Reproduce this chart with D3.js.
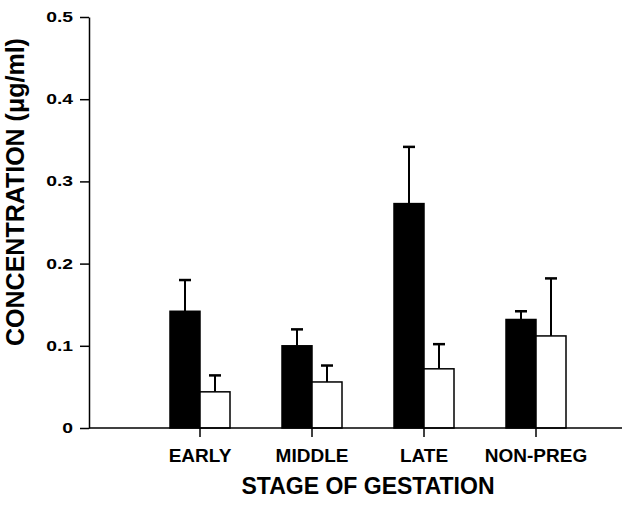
<!DOCTYPE html>
<html>
<head>
<meta charset="utf-8">
<script src="https://cdn.jsdelivr.net/npm/d3@7"></script>
<style>
	body { margin: 0; background: #fff; }
	text { font-family: "Liberation Sans", Arial, sans-serif; font-weight: bold; fill: #000; }
</style>
</head>
<body>
<div id="chart-area"></div>
<script>
// DATA
var stages = ["EARLY", "MIDDLE", "LATE", "NON-PREG"];
var blackMeans = [0.142, 0.100, 0.273, 0.132];
var blackErrs = [0.038, 0.020, 0.069, 0.010];
var whiteMeans = [0.044, 0.056, 0.072, 0.112];
var whiteErrs = [0.020, 0.020, 0.030, 0.070];
var yTicks = [0, 0.1, 0.2, 0.3, 0.4, 0.5];

var margin = { left: 89, right: 2, top: 17, bottom: 80 };
var width = 624 - margin.left - margin.right,
	height = 508 - margin.top - margin.bottom;

var svg = d3.select("#chart-area")
	.append("svg")
	.attr("width", 624)
	.attr("height", 508);

var g = svg.append("g")
	.attr("transform", "translate(" + margin.left + ", " + margin.top + ")");

// SCALES
var x = d3.scaleBand()
	.domain(stages)
	.range([55, 503]);

var sub = d3.scaleBand()
	.domain(["black", "white"])
	.range([-30, 30]);

var y = d3.scaleLinear()
	.domain([0, 0.5])
	.range([height, 0]);

// BUILD ROWS
var rows = [];
stages.forEach(function (s, i) {
	rows.push({ stage: s, group: "black", mean: blackMeans[i], err: blackErrs[i] });
	rows.push({ stage: s, group: "white", mean: whiteMeans[i], err: whiteErrs[i] });
});

// Y AXIS
var stretch = 1.38;
var yAxisCall = d3.axisLeft(y)
	.tickValues(yTicks)
	.tickSize(9)
	.tickSizeOuter(0)
	.tickFormat(function (d) { return d === 0 ? "0" : d3.format(".1f")(d); });
var yAxis = g.append("g")
	.attr("class", "y axis")
	.call(yAxisCall);
yAxis.selectAll("text")
	.attr("font-size", "14px")
	.style("font-family", null)
	.attr("x", -16 / stretch)
	.attr("transform", "scale(" + stretch + ",1)");
yAxis.selectAll("line, path").attr("stroke-width", 1.5);

// ERROR BARS
var err = g.selectAll(".err").data(rows).enter().append("g").attr("class", "err");
function cx(d) { return x(d.stage) + x.bandwidth() / 2 + sub(d.group) + sub.bandwidth() / 2; }
err.append("line")
	.attr("x1", cx).attr("x2", cx)
	.attr("y1", function (d) { return y(d.mean); })
	.attr("y2", function (d) { return y(d.mean + d.err); })
	.attr("stroke", "#000").attr("stroke-width", 2);
err.append("line")
	.attr("x1", function (d) { return cx(d) - 6; })
	.attr("x2", function (d) { return cx(d) + 6; })
	.attr("y1", function (d) { return y(d.mean + d.err); })
	.attr("y2", function (d) { return y(d.mean + d.err); })
	.attr("stroke", "#000").attr("stroke-width", 2.5);

// BARS
g.selectAll("rect").data(rows).enter().append("rect")
	.attr("x", function (d) { return x(d.stage) + x.bandwidth() / 2 + sub(d.group); })
	.attr("width", sub.bandwidth())
	.attr("y", function (d) { return y(d.mean); })
	.attr("height", function (d) { return height - y(d.mean); })
	.attr("fill", function (d) { return d.group === "black" ? "#000" : "#fff"; })
	.attr("stroke", "#000")
	.attr("stroke-width", 1.5);

// X AXIS
var xAxisCall = d3.axisBottom(x)
	.tickSize(9)
	.tickSizeOuter(0)
	.tickPadding(12);
var xAxis = g.append("g")
	.attr("class", "x axis")
	.attr("transform", "translate(0," + height + ")")
	.call(xAxisCall);
xAxis.select(".domain").attr("d", "M0,0H" + width);
xAxis.selectAll("text").attr("font-size", "19px").style("font-family", null);
xAxis.selectAll("line, path").attr("stroke-width", 1.5);

// LABELS
g.append("text")
	.attr("x", 279)
	.attr("y", height + 66)
	.attr("font-size", "23px")
	.attr("text-anchor", "middle")
	.text("STAGE OF GESTATION");

g.append("text")
	.attr("transform", "rotate(-90)")
	.attr("x", -(192 - margin.top))
	.attr("y", -65)
	.attr("font-size", "25px")
	.attr("text-anchor", "middle")
	.text("CONCENTRATION (\u03bcg/ml)");
</script>
</body>
</html>
